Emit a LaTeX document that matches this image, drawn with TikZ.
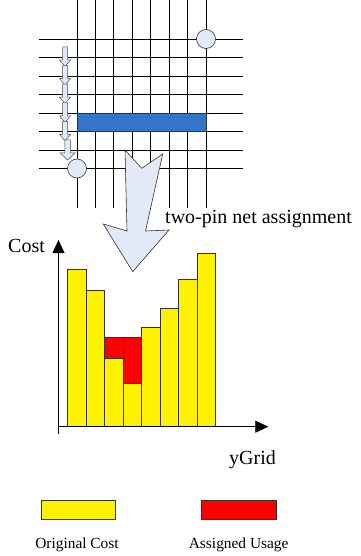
\documentclass[tikz,border=0pt]{standalone}
\usepackage{fontspec}
\setmainfont{Liberation Serif}
\usetikzlibrary{arrows.meta}
\definecolor{pinfill}{RGB}{227,234,247}
\definecolor{wireblue}{RGB}{51,117,200}
\tikzset{
  gridline/.style={line width=0.8pt},
  bar/.style={draw=black!80, line width=0.6pt, fill=yellow},
  usage/.style={draw=black!80, line width=0.6pt, fill=red},
  pin/.style={circle, draw=black!80, line width=0.6pt, fill=pinfill, minimum size=19pt, inner sep=0pt},
  chain/.style={draw=black!70, line width=0.5pt, fill=pinfill},
  lbl/.style={font=\fontsize{20}{24}\selectfont, inner sep=0pt},
  leglbl/.style={font=\fontsize{15.4}{18}\selectfont, inner sep=0pt},
}
\begin{document}
\begin{tikzpicture}[x=1pt,y=-1pt]
\useasboundingbox (0,0) rectangle (360,556);
% Grid
\foreach \i in {0,...,7}{
  \draw[gridline] ({77+18.43*\i},0) -- ({77+18.43*\i},208);
  \draw[gridline] (39,{39+18.5*\i}) -- (243,{39+18.5*\i});
}
% Assigned wire
\filldraw[fill=wireblue, draw=black!80, line width=0.6pt] (77,113) rectangle (206,131.5);
% Chain of small arrows
\foreach \t in {47,65.6,84.2,102.8,121.4}
  \filldraw[chain] (62.5,\t) -- (67.5,\t) -- (67.5,{\t+13}) -- (70.5,{\t+13}) -- (65,{\t+19.5}) -- (59.5,{\t+13}) -- (62.5,{\t+13}) -- cycle;
\filldraw[chain] (64.9,140) -- (70.3,140) -- (70.3,153) -- (75,153) -- (67.6,160) -- (60.2,153) -- (64.9,153) -- cycle;
% Pins
\node[pin] (pinA) at (206,39) {};
\node[pin] (pinB) at (77,168.5) {};
% Big arrow
\filldraw[draw=black!80, line width=0.6pt, fill=pinfill] (125,150) -- (141.7,168.3) -- (162.7,154) -- (145.5,231) -- (169,230) -- (132.7,271.7) -- (103.3,224) -- (127,231) -- cycle;
\node[lbl, anchor=base west] (netlbl) at (165,223) {two-pin net assignment};
% Bars
\foreach \h [count=\k from 0] in {269,290.3,358,383.3,327,308.7,279,253.3}
  \draw[bar] ({67.7+18.5*\k},426.7) rectangle ({67.7+18.5*(\k+1)},\h);
\draw[usage] (104.7,358) rectangle (123.2,337.3);
\draw[usage] (123.2,383.3) rectangle (141.7,337.3);
% Axes
\coordinate (origin) at (58.5,426.7);
\coordinate (ytop) at (58.5,240);
\coordinate (xend) at (268.3,426.7);
\draw[line width=0.8pt, -{Triangle[length=13pt,width=12pt]}] (58.5,434) -- (ytop);
\draw[line width=0.8pt, -{Triangle[length=13pt,width=12pt]}] (origin) -- (xend);
\node[lbl, anchor=base west] (costlbl) at (8,252.7) {Cost};
\node[lbl, anchor=base west] (gridlbl) at (229,464) {yGrid};
% Legend
\node[bar, minimum width=74pt, minimum height=19pt, inner sep=0pt] (legcost) at (78.3,509.8) {};
\node[usage, minimum width=74.7pt, minimum height=19pt, inner sep=0pt] (legusage) at (238.7,509.8) {};
\node[leglbl, anchor=base] (costtxt) at (77,548) {Original Cost};
\node[leglbl, anchor=base] (usagetxt) at (238.7,548) {Assigned Usage};
\end{tikzpicture}
\end{document}
